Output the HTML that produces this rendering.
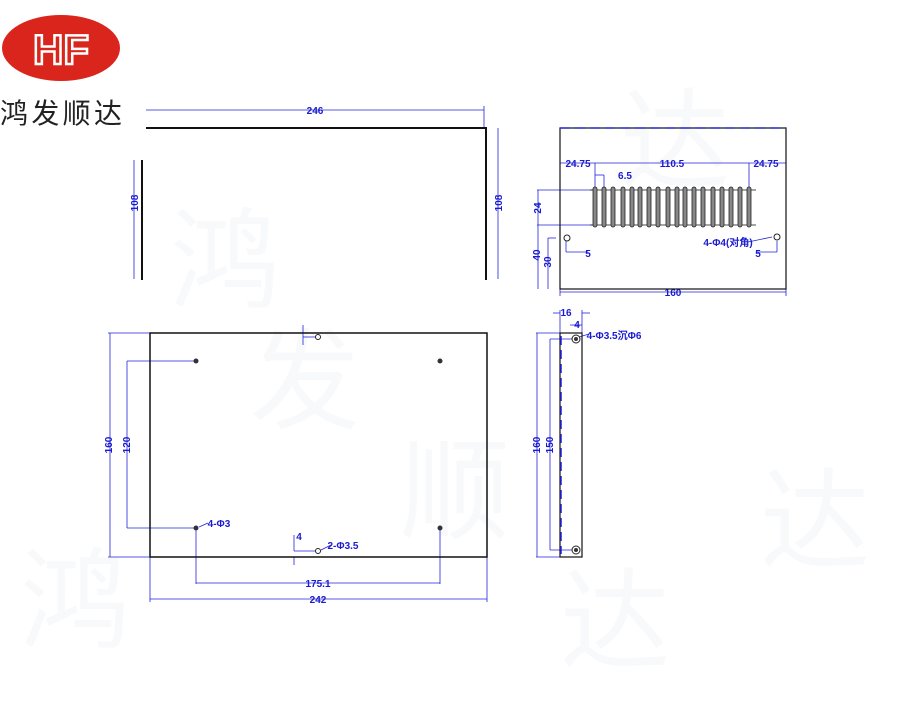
<!DOCTYPE html>
<html><head><meta charset="utf-8"><style>
body{margin:0;background:#fff;width:900px;height:696px;overflow:hidden;font-family:"Liberation Sans","Noto Sans CJK SC",sans-serif}
</style></head><body>
<svg width="900" height="696" xmlns="http://www.w3.org/2000/svg" font-family="Liberation Sans Narrow, Liberation Sans, sans-serif">
<g fill="#f3f4f9" font-family="Noto Sans CJK SC, sans-serif" font-size="110" opacity="0.5">
<text x="170" y="300">鸿</text><text x="250" y="420">发</text><text x="400" y="530">顺</text><text x="560" y="660">达</text>
<text x="620" y="180">达</text><text x="20" y="640">鸿</text><text x="760" y="560">达</text>
</g>
<!-- logo -->
<ellipse cx="61" cy="48" rx="59" ry="33" fill="#d9251c"/>
<text x="61" y="64" text-anchor="middle" font-size="42" font-weight="bold" fill="none" stroke="#fff" stroke-width="2.5" font-family="Liberation Sans, sans-serif">HF</text>
<text x="0" y="123" font-size="28" fill="#222" font-family="Noto Sans CJK SC, sans-serif" textLength="122">鸿发顺达</text>

<g stroke="#2222dd" stroke-width="0.8" fill="none">
<line x1="146" y1="110" x2="484" y2="110"/><line x1="484" y1="106" x2="484" y2="128"/>
<line x1="134" y1="160" x2="134" y2="279"/><line x1="498" y1="128" x2="498" y2="279"/>
<line x1="560" y1="163" x2="786" y2="163"/>
<line x1="595" y1="163" x2="595" y2="190"/><line x1="749" y1="163" x2="749" y2="190"/>
<line x1="595" y1="175" x2="604" y2="175"/><line x1="604" y1="175" x2="604" y2="190"/>
<line x1="537" y1="190" x2="595" y2="190"/><line x1="537" y1="225" x2="595" y2="225"/>
<line x1="538" y1="190" x2="538" y2="289"/><line x1="548" y1="238" x2="548" y2="289"/>
<line x1="548" y1="238" x2="556" y2="238"/>
<line x1="566" y1="241" x2="566" y2="252"/><line x1="566" y1="252" x2="588" y2="252"/>
<line x1="777" y1="241" x2="777" y2="252"/><line x1="757" y1="252" x2="777" y2="252"/>
<line x1="748" y1="242" x2="772" y2="237"/>
<line x1="560" y1="292" x2="786" y2="292"/>
<line x1="560" y1="289" x2="560" y2="296"/><line x1="786" y1="289" x2="786" y2="296"/>
<line x1="108" y1="333" x2="150" y2="333"/><line x1="108" y1="557" x2="150" y2="557"/>
<line x1="110" y1="333" x2="110" y2="557"/>
<line x1="127" y1="361" x2="196" y2="361"/><line x1="127" y1="528" x2="196" y2="528"/>
<line x1="127" y1="361" x2="127" y2="528"/>
<line x1="196" y1="528" x2="196" y2="584"/><line x1="440" y1="528" x2="440" y2="584"/>
<line x1="196" y1="583" x2="440" y2="583"/>
<line x1="150" y1="557" x2="150" y2="602"/><line x1="487" y1="557" x2="487" y2="602"/>
<line x1="150" y1="599" x2="487" y2="599"/>
<line x1="303" y1="325" x2="303" y2="345"/><line x1="303" y1="337" x2="318" y2="337"/>
<line x1="294" y1="535" x2="294" y2="551"/><line x1="294" y1="551" x2="318" y2="551"/><line x1="294" y1="557" x2="294" y2="565"/>
<line x1="199" y1="527" x2="208" y2="523"/><line x1="321" y1="550" x2="331" y2="545"/>
<line x1="536" y1="333" x2="560" y2="333"/><line x1="536" y1="557" x2="560" y2="557"/>
<line x1="537" y1="333" x2="537" y2="557"/>
<line x1="550" y1="339" x2="576" y2="339"/><line x1="550" y1="550" x2="576" y2="550"/>
<line x1="550" y1="339" x2="550" y2="550"/>
<line x1="553" y1="313" x2="560" y2="313"/><line x1="560" y1="310" x2="560" y2="333"/>
<line x1="582" y1="313" x2="590" y2="313"/><line x1="582" y1="310" x2="582" y2="333"/>
<line x1="570" y1="325" x2="582" y2="325"/>
<line x1="579" y1="337" x2="589" y2="334"/>
</g>
<g fill="#1a1ad0" font-size="10" font-weight="bold" text-anchor="middle">
<text x="315" y="114">246</text>
<text transform="translate(138,203) rotate(-90)">108</text>
<text transform="translate(502,203) rotate(-90)">108</text>
<text x="578" y="167">24.75</text>
<text x="672" y="167">110.5</text>
<text x="766" y="167">24.75</text>
<text x="625" y="179">6.5</text>
<text transform="translate(541,208) rotate(-90)">24</text>
<text transform="translate(540,255) rotate(-90)">40</text>
<text transform="translate(551,262) rotate(-90)">30</text>
<text x="588" y="257">5</text><text x="758" y="257">5</text>
<text x="728" y="246">4-Φ4(对角)</text>
<text x="673" y="296">160</text>
<text transform="translate(112,445) rotate(-90)">160</text>
<text transform="translate(130,445) rotate(-90)">120</text>
<text x="219" y="527">4-Φ3</text>
<text x="343" y="549">2-Φ3.5</text>
<text x="299" y="540">4</text>
<text x="318" y="587">175.1</text>
<text x="318" y="603">242</text>
<text transform="translate(540,445) rotate(-90)">160</text>
<text transform="translate(553,445) rotate(-90)">150</text>
<text x="566" y="316">16</text>
<text x="577" y="328">4</text>
<text x="614" y="339">4-Φ3.5沉Φ6</text>
</g>
<g stroke="#111" fill="none">
<line x1="146" y1="128" x2="487" y2="128" stroke-width="2"/>
<line x1="486" y1="128" x2="486" y2="280" stroke-width="2"/>
<line x1="142" y1="160" x2="142" y2="280" stroke-width="2"/>
<rect x="560" y="128" width="226" height="161" stroke-width="1.2"/>
<line x1="560" y1="128" x2="786" y2="128" stroke="#3333cc" stroke-width="1.5" stroke-dasharray="10,5"/>
<line x1="590" y1="190" x2="756" y2="190" stroke-width="0.8"/>
<line x1="590" y1="225" x2="756" y2="225" stroke-width="0.8"/>
<rect x="150" y="333" width="337" height="224" stroke-width="1.5"/>
<rect x="560" y="333" width="22" height="224" stroke-width="1.2"/>
<line x1="561" y1="336" x2="561" y2="554" stroke="#2222dd" stroke-width="1.5" stroke-dasharray="9,5"/>
</g>
<g fill="#888" stroke="#222" stroke-width="0.8">
<rect x="593" y="187" width="4" height="40" rx="2"/><rect x="602" y="187" width="4" height="40" rx="2"/>
<rect x="611" y="187" width="4" height="40" rx="2"/><rect x="621" y="187" width="4" height="40" rx="2"/>
<rect x="630" y="187" width="4" height="40" rx="2"/><rect x="638" y="187" width="4" height="40" rx="2"/>
<rect x="647" y="187" width="4" height="40" rx="2"/><rect x="656" y="187" width="4" height="40" rx="2"/>
<rect x="666" y="187" width="4" height="40" rx="2"/><rect x="675" y="187" width="4" height="40" rx="2"/>
<rect x="683" y="187" width="4" height="40" rx="2"/><rect x="692" y="187" width="4" height="40" rx="2"/>
<rect x="701" y="187" width="4" height="40" rx="2"/><rect x="711" y="187" width="4" height="40" rx="2"/>
<rect x="720" y="187" width="4" height="40" rx="2"/><rect x="729" y="187" width="4" height="40" rx="2"/>
<rect x="738" y="187" width="4" height="40" rx="2"/><rect x="747" y="187" width="4" height="40" rx="2"/>
</g>
<g fill="#fff" stroke="#222" stroke-width="1">
<circle cx="567" cy="238" r="3"/><circle cx="777" cy="237" r="3"/>
<circle cx="318" cy="337" r="2.5"/><circle cx="318" cy="551" r="2.5"/>
<circle cx="576" cy="339" r="4"/><circle cx="576" cy="550" r="4"/>
</g>
<g fill="#333">
<circle cx="196" cy="361" r="2.5"/><circle cx="440" cy="361" r="2.5"/>
<circle cx="196" cy="528" r="2.5"/><circle cx="440" cy="528" r="2.5"/>
<circle cx="576" cy="339" r="2"/><circle cx="576" cy="550" r="2"/>
</g>
</svg>
</body></html>
